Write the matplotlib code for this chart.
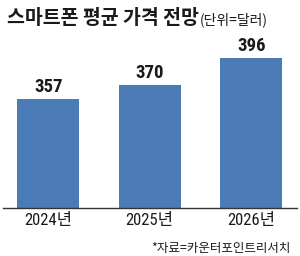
import matplotlib
matplotlib.use("Agg")
import matplotlib.pyplot as plt

categories = ["2024년", "2025년", "2026년"]
values = [357, 370, 396]
title = "스마트폰 평균 가격 전망"
unit = "(단위=달러)"
source = "*자료=카운터포인트리서치"

W, H = 300, 256
fig = plt.figure(figsize=(W / 100, H / 100), dpi=100)
ax = fig.add_axes([3 / W, 1 - 208 / H, 294 / W, 168 / H])

num_font = ["Roboto Condensed", "Noto Sans CJK KR"]
kr_font = ["Noto Sans CJK KR", "DejaVu Sans"]
color = "#4a7bb6"

x = list(range(len(categories)))
ax.bar(x, values, width=0.61, color=color, zorder=2)
ax.set_xlim(-0.445, 2.45)
ax.set_ylim(253, 413)
for xi, v in zip(x, values):
    ax.text(xi, v + 3, str(v), ha="center", va="bottom", fontsize=13.5,
            fontweight="bold", family=num_font, color="#1a1a1a")

for s in ["top", "right", "left"]:
    ax.spines[s].set_visible(False)
ax.spines["bottom"].set_color("#333333")
ax.spines["bottom"].set_linewidth(1.0)
ax.set_yticks([])
ax.set_xticks(x)
ax.set_xticklabels(categories, family=num_font, fontsize=12, color="#1a1a1a")
ax.tick_params(axis="x", length=0, pad=3.5)

t = fig.text(7 / W, 1 - 24 / H, title, fontsize=14, fontweight="black",
             family=kr_font, color="#1a1a1a", ha="left", va="baseline")
fig.canvas.draw()
bb = t.get_window_extent()
fig.text(bb.x1 / W + 1 / W, 1 - 24 / H, unit, fontsize=10, family=kr_font,
         color="#1a1a1a", ha="left", va="baseline")
fig.text(291 / W, 1 - 252 / H, source, fontsize=9, family=kr_font,
         color="#1a1a1a", ha="right", va="baseline")

fig.savefig("out.png", dpi=100)
